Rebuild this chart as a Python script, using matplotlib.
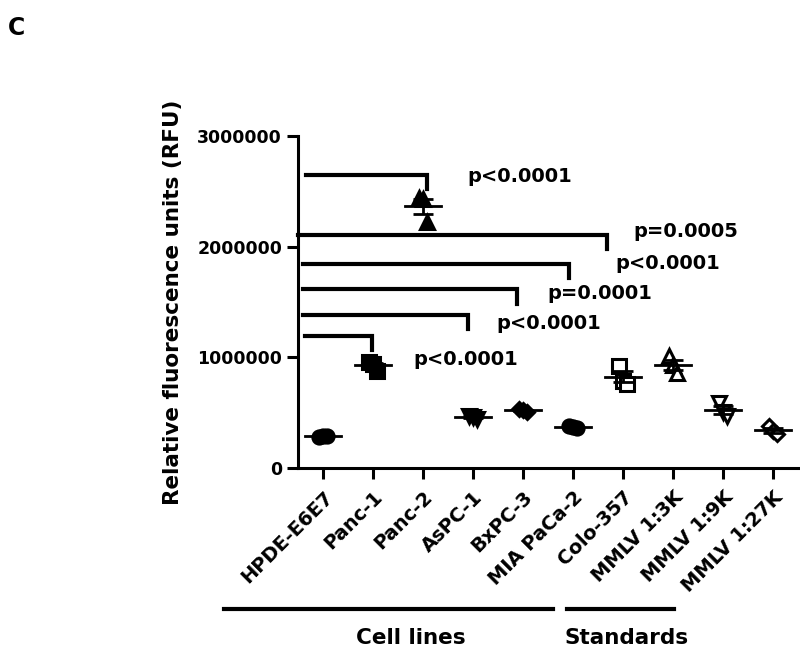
import matplotlib
matplotlib.use("Agg")
import matplotlib.pyplot as plt
import numpy as np

plt.rcParams["font.family"] = ["DejaVu Sans"]
plt.rcParams["font.weight"] = "bold"

categories = ["HPDE-E6E7", "Panc-1", "Panc-2", "AsPC-1", "BxPC-3",
              "MIA PaCa-2", "Colo-357", "MMLV 1:3K", "MMLV 1:9K", "MMLV 1:27K"]
markers = ["o", "s", "^", "v", "D", "o", "s", "^", "v", "D"]
filled = [True, True, True, True, True, True, False, False, False, False]

# replicate values (RFU)
values = [
    [280000, 290000, 285000],
    [960000, 940000, 880000],
    [2440000, 2430000, 2220000],
    [470000, 460000, 445000],
    [530000, 520000, 510000],
    [380000, 370000, 360000],
    [920000, 790000, 760000],
    [1010000, 930000, 860000],
    [590000, 510000, 470000],
    [380000, 330000, 310000],
]
jitter = [-0.08, 0.0, 0.08]

# significance brackets: start x, end x, top y, drop y, label, label x, label y
br_start = [-0.34, -0.5, -0.4, -0.4, -0.4, -0.36]
br_end = [2.08, 5.68, 4.92, 3.88, 2.9, 0.98]
br_top = [2650000, 2110000, 1840000, 1620000, 1380000, 1190000]
br_drop = [2520000, 1980000, 1720000, 1480000, 1260000, 1070000]
p_labels = ["p<0.0001", "p=0.0005", "p<0.0001", "p=0.0001", "p<0.0001", "p<0.0001"]
p_x = [2.88, 6.2, 5.84, 4.48, 3.46, 1.8]
p_y = [2630000, 2140000, 1850000, 1580000, 1310000, 985000]

fig = plt.figure(figsize=(8, 6.54), dpi=100)
ax = fig.add_axes([0.3725, 0.2844, 0.625, 0.5076])

x = np.arange(len(categories))
for i, vals in enumerate(values):
    xs = [x[i] + j for j in jitter]
    face = "black" if filled[i] else "white"
    size = 7.5 if markers[i] == "D" else 9.5
    ax.plot(xs, vals, linestyle="none", marker=markers[i], markersize=size,
            markerfacecolor=face, markeredgecolor="black", markeredgewidth=2.2, zorder=3)
    m = np.mean(vals)
    sem = np.std(vals, ddof=1) / np.sqrt(len(vals))
    ax.plot([x[i] - 0.36, x[i] + 0.36], [m, m], color="black", lw=2, zorder=4)
    ax.errorbar(x[i], m, yerr=sem, color="black", capsize=7, capthick=2, elinewidth=2, zorder=4)

for s, e, t, d in zip(br_start, br_end, br_top, br_drop):
    ax.plot([s, e, e], [t, t, d], color="black", lw=3, solid_joinstyle="miter", clip_on=False)
for lab, px, py in zip(p_labels, p_x, p_y):
    ax.text(px, py, lab, fontsize=14, fontweight="bold", ha="left", va="center")

ax.set_xlim(-0.5, 9.5)
ax.set_ylim(0, 3000000)
ax.set_yticks([0, 1000000, 2000000, 3000000])
ax.set_yticklabels(["0", "1000000", "2000000", "3000000"])
ax.set_xticks(x)
ax.set_xticklabels(categories, rotation=45, ha="right", rotation_mode="anchor")
for sp in ["top", "right"]:
    ax.spines[sp].set_visible(False)
for sp in ["left", "bottom"]:
    ax.spines[sp].set_linewidth(2.2)
ax.tick_params(axis="both", width=2.2, length=8, labelsize=12.5)
ax.tick_params(axis="x", pad=6, labelsize=14)
ax.set_ylabel("Relative fluorescence units (RFU)", fontsize=15.5, fontweight="bold", labelpad=10)

# group lines below the tick labels
fig.add_artist(plt.Line2D([224 / 800, 553 / 800], [1 - 609 / 654] * 2, color="black", lw=3))
fig.add_artist(plt.Line2D([567 / 800, 674 / 800], [1 - 609 / 654] * 2, color="black", lw=3))
fig.text(411 / 800, 1 - 638 / 654, "Cell lines", fontsize=15.5, fontweight="bold", ha="center", va="center")
fig.text(627 / 800, 1 - 638 / 654, "Standards", fontsize=15.5, fontweight="bold", ha="center", va="center")
fig.text(0.01, 0.975, "C", fontsize=17, fontweight="bold", ha="left", va="top")

fig.savefig("out.png", dpi=100)
